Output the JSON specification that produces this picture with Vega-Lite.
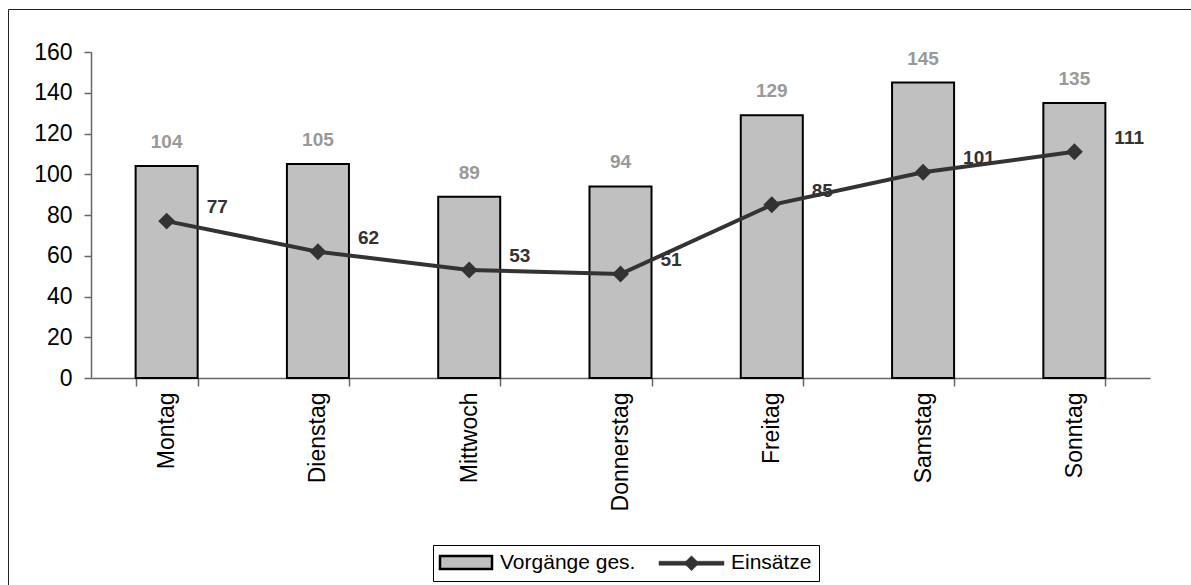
{
  "$schema": "https://vega.github.io/schema/vega-lite/v6.json",
  "autosize": {"type": "none"},
  "width": 1059,
  "height": 326,
  "padding": {"left": 91, "top": 52, "right": 41, "bottom": 207},
  "background": "white",
  "config": {
    "font": "Liberation Sans",
    "view": {"stroke": null},
    "axis": {"grid": false, "labelFont": "Liberation Sans", "labelColor": "black", "labelFontSize": 23, "domainColor": "#666666", "tickColor": "#666666", "domainWidth": 1.5, "tickWidth": 1.5},
    "legend": {
      "title": null, "orient": "none", "direction": "horizontal",
      "legendX": 342, "legendY": 493,
      "strokeColor": "black", "fillColor": "white", "padding": 7,
      "labelFontSize": 21, "labelFont": "Liberation Sans", "labelColor": "black",
      "symbolSize": 576, "columnPadding": 22, "labelOffset": 3, "symbolStrokeWidth": 2
    }
  },
  "data": {
    "values": [
      {"day": "Montag", "vorgaenge": 104, "einsaetze": 77},
      {"day": "Dienstag", "vorgaenge": 105, "einsaetze": 62},
      {"day": "Mittwoch", "vorgaenge": 89, "einsaetze": 53},
      {"day": "Donnerstag", "vorgaenge": 94, "einsaetze": 51},
      {"day": "Freitag", "vorgaenge": 129, "einsaetze": 85},
      {"day": "Samstag", "vorgaenge": 145, "einsaetze": 101},
      {"day": "Sonntag", "vorgaenge": 135, "einsaetze": 111}
    ]
  },
  "encoding": {
    "x": {
      "field": "day", "type": "nominal", "sort": null,
      "scale": {"paddingInner": 0.59, "paddingOuter": 0.295},
      "axis": {"title": null, "labelAngle": -90, "labelAlign": "right", "labelBaseline": "middle", "labelPadding": 6, "tickSize": 8, "bandPosition": 0, "tickBand": "extent"}
    }
  },
  "layer": [
    {
      "mark": {"type": "bar", "stroke": "black", "strokeWidth": 2, "fill": "#c0c0c0"},
      "encoding": {
        "y": {"field": "vorgaenge", "type": "quantitative", "scale": {"domain": [0, 160]}, "axis": {"title": null, "values": [0, 20, 40, 60, 80, 100, 120, 140, 160], "tickSize": 7, "labelPadding": 12}}
      }
    },
    {
      "mark": {"type": "text", "fontWeight": "bold", "fontSize": 19, "color": "#999999", "baseline": "bottom", "dy": -14},
      "encoding": {
        "y": {"field": "vorgaenge", "type": "quantitative"},
        "text": {"field": "vorgaenge", "type": "quantitative"},
        "opacity": {
          "datum": 1, "type": "quantitative",
          "scale": {"domain": [0, 1], "range": [1, 1]},
          "legend": {
            "orient": "none", "legendX": -83, "legendY": -43, "values": [1],
            "padding": 700, "strokeColor": "#222222", "fillColor": "transparent",
            "symbolOpacity": 0, "labelOpacity": 0, "labelExpr": "''", "title": null,
            "encode": {"legend": {"update": {"strokeWidth": {"value": 2}}}}
          }
        }
      }
    },
    {
      "mark": {"type": "line", "strokeWidth": 4, "color": "#333333", "point": {"shape": "diamond", "size": 200, "filled": true, "fill": "#333333", "color": "#333333", "opacity": 1}},
      "encoding": {
        "y": {"field": "einsaetze", "type": "quantitative"},
        "stroke": {
          "datum": "Einsätze",
          "scale": {"domain": ["Vorgänge ges.", "Einsätze"], "range": ["black", "#333333"]},
          "legend": {
            "encode": {
              "symbols": {
                "update": {
                  "shape": {"signal": "datum.value === 'Einsätze' ? 'M-2.708,-0.167H2.708V0.167H-2.708Z M0,-0.625L0.625,0L0,0.625L-0.625,0Z' : 'M-2.167,-0.54H2.167V0.54H-2.167Z'"},
                  "x": {"signal": "datum.value === 'Einsätze' ? 32.5 : 26"},
                  "fill": {"signal": "datum.value === 'Einsätze' ? '#333333' : '#c0c0c0'"},
                  "strokeWidth": {"signal": "datum.value === 'Einsätze' ? 0.5 : 2.5"},
                  "opacity": {"value": 1}
                }
              },
              "labels": {
                "update": {
                  "x": {"signal": "datum.value === 'Einsätze' ? 72 : 60"}
                }
              }
            }
          }
        }
      }
    },
    {
      "mark": {"type": "text", "fontWeight": "bold", "fontSize": 19, "color": "#333333", "align": "left", "baseline": "middle", "dx": 40, "dy": -14},
      "encoding": {
        "y": {"field": "einsaetze", "type": "quantitative"},
        "text": {"field": "einsaetze", "type": "quantitative"}
      }
    }
  ]
}
